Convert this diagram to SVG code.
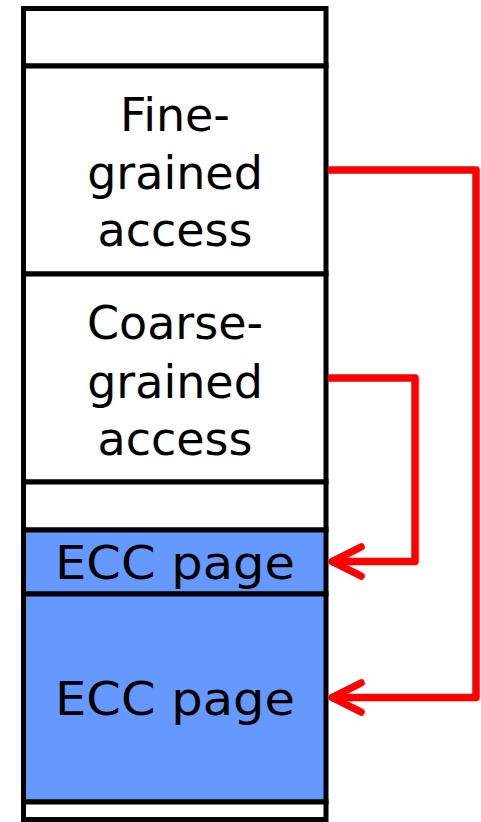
<svg xmlns="http://www.w3.org/2000/svg" width="481" height="822" viewBox="0 0 481 822">
<style>
.cell{stroke:#000;stroke-width:5;fill:#fff}
.ecc{fill:#6699FF}
.lbl{font-family:"DejaVu Sans",sans-serif;font-size:46px;fill:#000;text-anchor:middle}
.conn{fill:none;stroke:#FF0000;stroke-width:7.5;stroke-linejoin:round}
</style>
<defs>
<marker id="chev" markerUnits="userSpaceOnUse" viewBox="-40 -22 50 44" markerWidth="50" markerHeight="44" refX="0" refY="0" orient="auto" overflow="visible">
<path d="M-30 -14.5 L-1 0 L-30 14.5" fill="none" stroke="#FF0000" stroke-width="7.5" stroke-linecap="round" stroke-linejoin="round"/>
</marker>
</defs>
<rect width="481" height="822" fill="#fff"/>
<g id="row-top"><rect class="cell" x="23.5" y="8.5" width="302.5" height="57.5"/></g>
<g id="fine"><rect class="cell" x="23.5" y="66" width="302.5" height="208"/>
<text class="lbl" x="175" y="131">Fine-</text>
<text class="lbl" x="175" y="189">grained</text>
<text class="lbl" x="175" y="246">access</text></g>
<g id="coarse"><rect class="cell" x="23.5" y="274" width="302.5" height="208"/>
<text class="lbl" x="175" y="339">Coarse-</text>
<text class="lbl" x="175" y="398">grained</text>
<text class="lbl" x="175" y="455">access</text></g>
<g id="row-gap"><rect class="cell" x="23.5" y="482" width="302.5" height="48"/></g>
<g id="ecc1"><rect class="cell ecc" x="23.5" y="530" width="302.5" height="64"/>
<text class="lbl" x="175" y="579" textLength="240" lengthAdjust="spacingAndGlyphs">ECC page</text></g>
<g id="ecc2"><rect class="cell ecc" x="23.5" y="594" width="302.5" height="208"/>
<text class="lbl" x="175" y="715" textLength="240" lengthAdjust="spacingAndGlyphs">ECC page</text></g>
<g id="row-bottom"><rect class="cell" x="23.5" y="802" width="302.5" height="17.5"/></g>
<g id="connectors">
<path class="conn" d="M328 170 H476 V697.5 H331" marker-end="url(#chev)"/>
<path class="conn" d="M328 378 H415 V561.5 H331" marker-end="url(#chev)"/>
</g>
</svg>
